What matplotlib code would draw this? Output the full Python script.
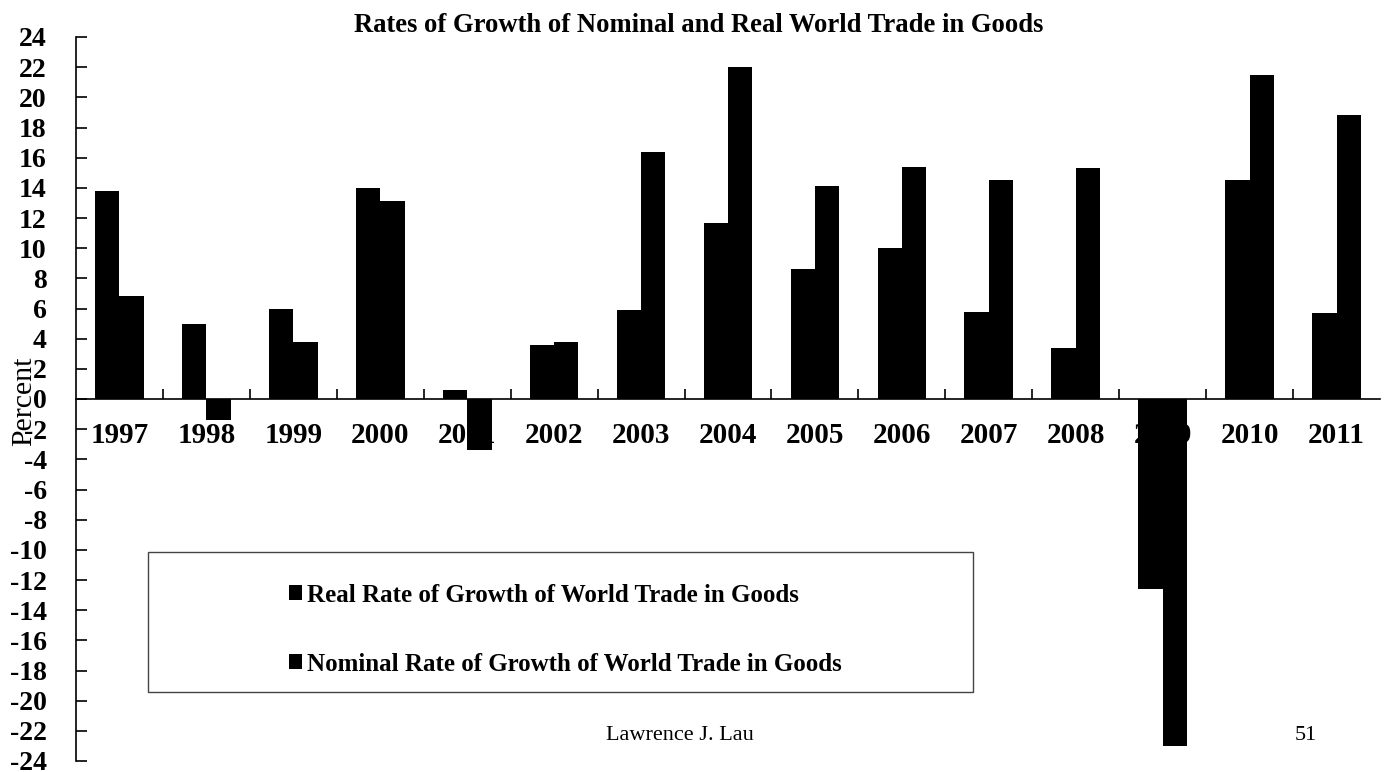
import matplotlib
matplotlib.use("Agg")
import matplotlib.pyplot as plt
from matplotlib.patches import Rectangle

# Data
years = ["1997", "1998", "1999", "2000", "2001", "2002", "2003", "2004",
         "2005", "2006", "2007", "2008", "2009", "2010", "2011"]
real_growth = [13.8, 5.0, 6.0, 14.0, 0.6, 3.6, 5.9, 11.7,
               8.6, 10.0, 5.8, 3.4, -12.6, 14.5, 5.7]
nominal_growth = [6.8, -1.4, 3.8, 13.1, -3.4, 3.8, 16.4, 22.0,
                  14.1, 15.4, 14.5, 15.3, -23.0, 21.5, 18.8]
y_ticks = list(range(-24, 25, 2))

serif = ["Liberation Serif", "DejaVu Serif"]
plt.rcParams["font.family"] = serif

fig = plt.figure(figsize=(13.9, 7.72), dpi=100)
ax = fig.add_axes([76 / 1390, 11 / 772, 1304 / 1390, 724 / 772])

# Bars
x = list(range(len(years)))
w = 0.28
ax.bar([i - w / 2 for i in x], real_growth, w, color="black", zorder=3,
       label="Real Rate of Growth of World Trade in Goods")
ax.bar([i + w / 2 for i in x], nominal_growth, w, color="black", zorder=3,
       label="Nominal Rate of Growth of World Trade in Goods")

ax.set_xlim(-0.5, len(years) - 0.5)
ax.set_ylim(-24, 24)

# Spines: left axis and zero line only
ax.spines["top"].set_visible(False)
ax.spines["right"].set_visible(False)
ax.spines["bottom"].set_position(("data", 0))
ax.spines["left"].set_linewidth(1.2)
ax.spines["bottom"].set_linewidth(1.2)

ax.set_yticks(y_ticks)
ax.set_yticklabels([str(t) for t in y_ticks], fontsize=20, fontweight="bold")
ax.tick_params(axis="y", direction="in", length=8, width=1.2, pad=21)

# Category separators on zero line
ax.set_xticks([i + 0.5 for i in x[:-1]])
ax.set_xticklabels([])
ax.tick_params(axis="x", direction="in", length=7, width=1.2)

# Year labels under the zero line (bars drawn over them)
for i, yr in enumerate(years):
    ax.text(i, -2.4, yr, ha="center", va="center", fontsize=21,
            fontweight="bold", zorder=1)

ax.set_ylabel("Percent", fontsize=21.5)
ax.yaxis.set_label_coords(-0.0296, 0.497)

fig.text(0.503, 0.967, "Rates of Growth of Nominal and Real World Trade in Goods",
         ha="center", va="center", fontsize=19.2, fontweight="bold")

# Legend with wide frame
fig.patches.append(Rectangle((148 / 1390, 1 - 692 / 772), 825 / 1390, 140 / 772,
                             transform=fig.transFigure, fill=False,
                             edgecolor="#444444", linewidth=1.0))
leg = fig.legend(loc="upper left", bbox_to_anchor=(266 / 1390, 1 - 561 / 772),
                 frameon=False, handlelength=0.55, handleheight=0.55,
                 handletextpad=0.2, labelspacing=1.85,
                 prop={"family": serif, "weight": "bold", "size": 18})

fig.text(680 / 1390, 1 - 735 / 772, "Lawrence J. Lau", ha="center", va="center",
         fontsize=16)
fig.text(1306 / 1390, 1 - 735 / 772, "51", ha="center", va="center", fontsize=16)

fig.savefig("out.png", dpi=100)
